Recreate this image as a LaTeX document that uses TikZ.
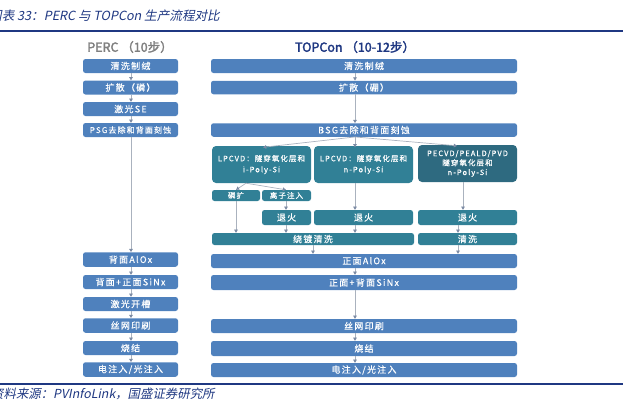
\documentclass[tikz,border=0pt]{standalone}
\usepackage{fontspec}
\setmainfont{Noto Sans CJK SC}
\newfontfamily\bxf{Noto Sans CJK SC}[LetterSpace=14,FakeBold=0.4]
\newfontfamily\ttlf{Noto Sans CJK SC}[FakeSlant=0.2]
\newfontfamily\hdf{Noto Sans CJK SC}[FakeBold=2.4]
\usetikzlibrary{arrows.meta}
\definecolor{boxblue}{RGB}{79,129,189}
\definecolor{boxteal}{RGB}{49,128,150}
\definecolor{boxdteal}{RGB}{46,106,128}
\definecolor{navy}{RGB}{31,56,130}
\definecolor{hdgray}{RGB}{127,127,127}
\definecolor{arrgray}{RGB}{170,178,190}
\definecolor{tipgray}{RGB}{125,140,165}
\tikzset{
  bbox/.style={fill=boxblue, rounded corners=2.5pt, inner sep=0pt, text=white, font=\bxf\fontsize{9}{10}\selectfont, align=center},
  tbox/.style={bbox, fill=boxteal},
  dbox/.style={bbox, fill=boxdteal},
  arr/.style={draw=arrgray, line width=0.7pt, -{Triangle[length=3.2pt,width=3.6pt,color=tipgray,fill=tipgray]}},
  rule/.style={draw=navy, line width=1.4pt}
}
\begin{document}
\begin{tikzpicture}[x=1pt,y=-1pt]
\useasboundingbox (0,0) rectangle (623,407);
% title and rules
\node[anchor=west, text=navy, font=\ttlf\fontsize{12.6}{13}\selectfont, inner sep=0pt] (title) at (-11,16) {图表 33：PERC 与 TOPCon 生产流程对比};
\coordinate (rl1) at (0,31);
\coordinate (rr1) at (623,31);
\draw[rule] (rl1) -- (rr1);
\coordinate (rl2) at (0,384);
\coordinate (rr2) at (623,384);
\draw[rule] (rl2) -- (rr2);
\node[anchor=west, text=navy, font=\ttlf\fontsize{12.4}{13}\selectfont, inner sep=0pt] (src) at (-9,394) {资料来源：PVInfoLink，国盛证券研究所};
% headers
\node[text=hdgray, font=\hdf\fontsize{12.5}{14}\selectfont] (hl) at (130,47) {PERC （10步）};
\node[text=navy, font=\hdf\fontsize{12.5}{14}\selectfont] (hr) at (355,47) {TOPCon （10-12步）};
% left column
\node[bbox, minimum width=95pt, minimum height=14pt] (L1) at (130.5,66) {清洗制绒};
\node[bbox, minimum width=95pt, minimum height=14pt] (L2) at (130.5,87.5) {扩散（磷）};
\node[bbox, minimum width=95pt, minimum height=14pt] (L3) at (130.5,109) {激光SE};
\node[bbox, minimum width=95pt, minimum height=14pt, font=\bxf\fontsize{8}{9}\selectfont] (L4) at (130.5,130) {PSG去除和背面刻蚀};
\node[bbox, minimum width=95pt, minimum height=14.5pt] (L5) at (130.5,259.5) {背面AlOx};
\node[bbox, minimum width=95pt, minimum height=14pt] (L6) at (130.5,282) {背面+正面SiNx};
\node[bbox, minimum width=95pt, minimum height=14pt] (L7) at (130.5,304) {激光开槽};
\node[bbox, minimum width=95pt, minimum height=14.5pt] (L8) at (130.5,325.5) {丝网印刷};
\node[bbox, minimum width=95pt, minimum height=14pt] (L9) at (130.5,348) {烧结};
\node[bbox, minimum width=95pt, minimum height=14.5pt] (L10) at (130.5,369.5) {电注入/光注入};
\coordinate (lx) at (131,0);
\foreach \a/\b in {L1/L2,L2/L3,L3/L4,L4/L5,L5/L6,L6/L7,L7/L8,L8/L9,L9/L10}
  \draw[arr] (\a.south -| lx) -- (\b.north -| lx);
% right column
\node[bbox, minimum width=306pt, minimum height=14pt] (R1) at (364,66) {清洗制绒};
\node[bbox, minimum width=306pt, minimum height=13.5pt] (R2) at (364,87.5) {扩散（硼）};
\node[bbox, minimum width=306pt, minimum height=13.5pt] (R3) at (364,130) {BSG去除和背面刻蚀};
\node[tbox, minimum width=99pt, minimum height=37pt, rounded corners=4pt, font=\bxf\fontsize{7.5}{11}\selectfont] (T1) at (261.5,164.5) {LPCVD：隧穿氧化层和\\i-Poly-Si};
\node[tbox, minimum width=99pt, minimum height=37pt, rounded corners=4pt, font=\bxf\fontsize{7.5}{11}\selectfont] (T2) at (363.5,164.5) {LPCVD：隧穿氧化层和\\n-Poly-Si};
\node[dbox, minimum width=99pt, minimum height=37pt, rounded corners=4pt, font=\bxf\fontsize{7.5}{9.5}\selectfont] (T3) at (467.5,163.5) {PECVD/PEALD/PVD\\隧穿氧化层和\\n-Poly-Si};
\node[tbox, minimum width=48pt, minimum height=11pt, font=\bxf\fontsize{7.5}{9}\selectfont] (P1) at (236,195.5) {磷扩};
\node[tbox, minimum width=49pt, minimum height=11pt, font=\bxf\fontsize{7.5}{9}\selectfont] (P2) at (286.5,195.5) {离子注入};
\node[tbox, minimum width=49pt, minimum height=15pt] (A1) at (286.5,217.5) {退火};
\node[tbox, minimum width=99pt, minimum height=15pt] (A2) at (363.5,217.5) {退火};
\node[tbox, minimum width=99pt, minimum height=15pt] (A3) at (467.5,217.5) {退火};
\node[tbox, minimum width=202pt, minimum height=12pt] (C1) at (313,239) {绕镀清洗};
\node[tbox, minimum width=99pt, minimum height=12pt] (C2) at (467.5,239) {清洗};
\node[bbox, minimum width=306pt, minimum height=14pt] (R4) at (364,261) {正面AlOx};
\node[bbox, minimum width=306pt, minimum height=15pt] (R5) at (364,282.5) {正面+背面SiNx};
\node[bbox, minimum width=306pt, minimum height=14pt] (R6) at (364,326) {丝网印刷};
\node[bbox, minimum width=306pt, minimum height=15pt] (R7) at (364,348.5) {烧结};
\node[bbox, minimum width=306pt, minimum height=14pt] (R8) at (364,370) {电注入/光注入};
\coordinate (rx) at (355,0);
\foreach \a/\b in {R1/R2,R2/R3,R4/R5,R5/R6,R6/R7,R7/R8}
  \draw[arr] (\a.south -| rx) -- (\b.north -| rx);
% BSG fan-out
\coordinate (f1) at (263,0);
\coordinate (f3) at (457,0);
\draw[arr] (R3.south -| rx) -- ([yshift=-1.5pt]T1.north -| f1);
\draw[arr] (R3.south -| rx) -- ([yshift=-1.5pt]T2.north -| rx);
\draw[arr] (R3.south -| rx) -- ([yshift=-1pt]T3.north -| f3);
% T1 split
\coordinate (s0) at (246,0);
\coordinate (s1) at (236,0);
\coordinate (s2) at (286,0);
\draw[arr] (T1.south -| s0) -- (P1.north -| s1);
\draw[arr] (T1.south -| s0) -- (P2.north -| s2);
\draw[arr] (P1.south -| s1) -- (C1.north -| s1);
\draw[arr] (P2.south -| s2) -- (A1.north -| s2);
\draw[arr] (A1.south -| s2) -- (C1.north -| s2);
\draw[arr] (T2.south -| rx) -- (A2.north -| rx);
\draw[arr] (A2.south -| rx) -- (C1.north -| rx);
\coordinate (t3) at (463,0);
\coordinate (t4) at (458,0);
\coordinate (cx) at (313,0);
\draw[arr] (T3.south -| t3) -- (A3.north -| t3);
\draw[arr] (A3.south -| t4) -- (C2.north -| t4);
\draw[arr] (C1.south -| cx) -- (R4.north -| cx);
\draw[arr] (C2.south -| t4) -- (R4.north -| t4);
\end{tikzpicture}
\end{document}
